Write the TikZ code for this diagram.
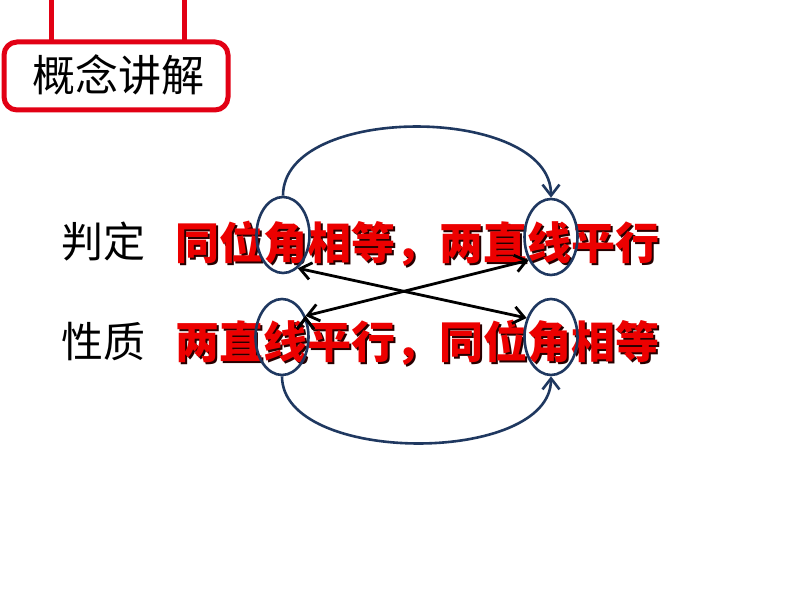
\documentclass[tikz,border=0pt]{standalone}
\usepackage{fontspec}
\newfontfamily\cjk{Noto Sans CJK SC}
\usepackage{tikz}
\usetikzlibrary{shapes.geometric,arrows.meta}
\definecolor{boxred}{RGB}{226,0,20}
\definecolor{txtred}{RGB}{236,0,0}
\definecolor{ringblue}{RGB}{31,56,96}
\tikzset{
	label txt/.style={anchor=base west,inner sep=0pt,font=\cjk\fontsize{42}{42}\selectfont},
	red txt/.style={anchor=base west,inner sep=0pt,text=txtred,font=\cjk\bfseries\fontsize{44}{44}\selectfont},
	shade txt/.style={red txt,text=black!65!red!40!black},
	ring/.style={draw=ringblue,line width=2.6pt,ellipse,inner sep=0pt,minimum width=53pt,minimum height=76pt},
	bow/.style={draw=ringblue,line width=2.6pt,-{Straight Barb[length=11pt,width=17pt]}},
	cross/.style={draw=black,line width=2.8pt,{Straight Barb[length=11pt,width=17pt]}-{Straight Barb[length=11pt,width=17pt]}}
}
\begin{document}
\begin{tikzpicture}[x=1pt,y=-1pt]
		\useasboundingbox[fill=white] (0,0) rectangle (794,596);
		% title box
		\draw[boxred,line width=5pt] (51,0) -- (51,42) (184,0) -- (184,42);
		\node[draw=boxred,line width=5pt,rounded corners=13pt,fill=white,minimum width=224pt,minimum height=68pt] (box) at (116,76) {};
		\node[anchor=base,inner sep=0pt,font=\cjk\fontsize{43}{43}\selectfont] (title) at (118,92) {概念讲解};
		% rows
		\node[label txt] (judge) at (61,257) {判定};
		\node[label txt] (prop) at (61,357) {性质};
		\node[shade txt] (s1) at (177,261) {同位角相等，两直线平行};
		\node[red txt] (t1) at (175,259) {同位角相等，两直线平行};
		\node[shade txt] (s2) at (177,360) {两直线平行，同位角相等};
		\node[red txt] (t2) at (175,358) {两直线平行，同位角相等};
		% rings
		\node[ring] (tl) at (283,235) {};
		\node[ring] (tr) at (551,237) {};
		\node[ring] (bl) at (282,337) {};
		\node[ring] (br) at (551,337) {};
		\path[bow]
		(tl.north) .. controls +(0,-93) and +(0,-93) .. (tr.north);
		\path[bow]
		(bl.south) .. controls +(0,89) and +(0,89) .. (br.south);
		\path[cross]
		(tl.-66) edge (br.142)
		(bl.42) edge (tr.-134);
	\end{tikzpicture}
\end{document}
